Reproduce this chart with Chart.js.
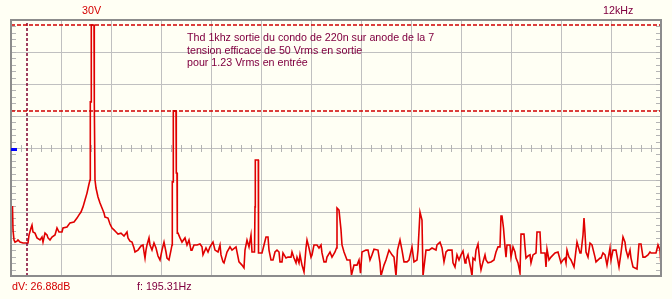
<!DOCTYPE html>
<html>
<head>
<meta charset="utf-8">
<script src="https://cdn.jsdelivr.net/npm/chart.js@4.4.0/dist/chart.umd.min.js"></script>
<style>
  html, body { margin: 0; padding: 0; background: #fffff4; }
  #spectre { display: block; }
</style>
</head>
<body>
<canvas id="spectre" width="672" height="299"></canvas>
<script>
// FFT bins (12.207 Hz each) and levels in dB
var bins = [
  0, 1.5, 2, 3, 4, 6, 7, 9, 12, 17,
  18, 20, 21, 22, 24, 26, 29, 31, 32, 34,
  36, 37, 39, 41, 44, 46, 48, 51, 52, 56,
  59, 63, 66, 68, 70, 72, 74, 76, 78, 79,
  79.3, 80, 80.3, 83, 83.3, 84, 85, 87, 89, 91,
  93, 94, 97, 99, 101, 103, 105, 107, 110, 113,
  116, 117, 119, 121, 123, 124, 127, 130, 132, 133,
  134, 135, 136, 138, 139, 141, 143, 145, 147, 149,
  151, 153, 155, 156, 158, 160, 161, 161.3, 162.3, 162.3,
  165, 165.3, 166, 166.3, 167, 169, 171, 174, 176, 178,
  180, 181, 183, 186, 189, 191, 192, 195, 197, 199,
  202, 204, 207, 209, 210, 212, 213, 216, 219, 221,
  225, 228, 231, 233, 234, 236, 238, 240, 241, 243.5,
  244, 244.3, 247.3, 247.5, 251, 253, 255, 257, 258, 260,
  262, 264, 266, 268, 269, 271, 272, 275, 277, 280,
  281, 283, 285, 286, 288, 289, 291, 293, 295, 296,
  298, 300, 301, 303, 306, 308, 310, 311, 313, 315,
  316, 319, 321, 324, 325.5, 326, 328, 330, 331, 333,
  336, 339, 340.5, 343, 346, 348, 349.5, 351, 355, 357,
  359, 361, 363, 367, 369, 370, 373, 375, 378, 381,
  383, 385, 386.5, 389, 391, 393, 396, 398, 401, 403,
  406, 407, 409, 411, 412, 415, 418, 421, 425, 426,
  429, 431, 433, 435, 437, 441, 442, 444, 446, 448,
  450, 452, 454, 455, 457, 458, 460, 461, 462, 464,
  465, 467, 469, 470, 472, 474, 475, 477, 480, 483,
  485, 487, 489, 490, 491, 492.5, 494, 495, 496, 499,
  500, 502, 504, 505, 507, 509, 510, 513, 514, 515,
  517, 519, 520, 522, 525, 526, 529, 530, 534, 535,
  536, 538, 540, 544, 547, 550, 552, 554, 555, 556,
  558, 560, 563, 565, 566, 569, 570, 572, 573, 574,
  575, 577, 579, 581, 584, 585, 589, 590, 592, 594,
  596, 599, 600, 602, 605, 608, 610, 612, 614, 615,
  617, 619, 620, 622, 624, 626, 628, 630, 632, 634,
  637, 639, 640, 645, 647, 649, 650
];

var levelsDb = [
  -58.4, -58.4, -65.6, -68.75, -69.4, -69.1, -68.75, -69.4, -69.7, -69.7,
  -67.2, -65, -64.1, -66.25, -66.6, -68.1, -68.75, -67.8, -69.4, -66.6,
  -67.2, -68.1, -68.75, -67.8, -67.2, -65, -66.25, -66.25, -65, -64.7,
  -63.4, -63.1, -61.9, -60.9, -60, -58.4, -56.25, -54.1, -51.25, -50,
  -25.6, -25.6, -1.56, -1.56, -25.9, -50, -52.5, -55.3, -57.2, -58.75,
  -60.3, -61.6, -61.9, -63.75, -65, -65.6, -66.25, -66.9, -66.6, -67.5,
  -66.25, -68.1, -69.1, -69.4, -71.25, -72.5, -71.9, -70.6, -70.3, -72.5,
  -74.4, -71.9, -70.3, -68.1, -70.3, -71.9, -69.7, -71.25, -73.75, -75,
  -71.9, -69.4, -72.5, -74.4, -75, -71.9, -70.3, -50.6, -50.6, -28.4,
  -28.4, -47.8, -47.8, -66.6, -66.6, -68.1, -69.4, -68.1, -70.3, -68.75,
  -71.9, -71.9, -70.3, -70.3, -70, -70.9, -73.4, -71.25, -72.5, -70.9,
  -69.4, -71.9, -72.5, -70.3, -73.4, -75.6, -75.9, -72.5, -70.9, -71.9,
  -70.9, -75.6, -76.6, -77.5, -71.9, -68.75, -70.9, -67.2, -72.5, -72.5,
  -58.4, -43.75, -43.75, -72.8, -72.8, -70.3, -67.8, -67.8, -71.9, -75,
  -75, -72.5, -71.9, -72.5, -75.6, -75.6, -72.8, -74.4, -74.1, -74.1,
  -72.5, -74.4, -75.9, -74.1, -75.9, -73.4, -76.6, -78.75, -71.25, -68.75,
  -71.25, -74.1, -73.4, -70.3, -70.3, -71.25, -70.3, -72.8, -75.6, -75.6,
  -74.1, -72.5, -74.1, -72.5, -71.25, -58.75, -59.4, -65.6, -70.3, -72.5,
  -75, -75, -79.7, -76.6, -76.6, -75, -79.1, -72.5, -71.9, -71.9,
  -75, -73.4, -71.6, -71.9, -75.9, -80, -76.6, -75, -71.9, -73.4,
  -74.1, -80, -71.9, -68.75, -71.9, -75.6, -75.6, -75, -70.9, -75.6,
  -75, -71.9, -60, -62.5, -80, -71.9, -71.9, -71.25, -71.9, -70.3,
  -69.4, -71.25, -75.6, -72.5, -71.9, -71.9, -75.9, -77.2, -73.4, -75,
  -73.4, -72.2, -75.9, -75, -73.4, -75, -78.1, -80, -74.4, -75,
  -71.9, -70, -75.9, -78.1, -75.6, -73.4, -75, -75.9, -75.6, -75,
  -72.5, -70.9, -70.9, -61.25, -61.25, -65, -70.9, -74.1, -70.3, -70.3,
  -74.1, -70.9, -72.5, -74.4, -75.9, -79.1, -66.9, -66.9, -70.9, -74.4,
  -73.75, -73.4, -75.9, -73.4, -72.8, -66.25, -66.25, -72.8, -72.8, -77.2,
  -71.6, -75, -74.1, -72.8, -72.5, -75.9, -75, -74.4, -75.9, -71.9,
  -74.1, -75, -77.2, -71.9, -69.4, -72.8, -72.8, -67.2, -61.9, -66.6,
  -72.5, -74.1, -69.7, -70.3, -74.1, -75.6, -74.4, -74.4, -72.8, -73.4,
  -76.6, -71.25, -75, -71.9, -71.9, -77.2, -72.8, -67.8, -69.4, -71.9,
  -74.1, -71.9, -74.4, -77.2, -77.5, -77.8, -70, -70, -74.1, -74.1,
  -73.4, -72.5, -72.8, -72.8, -70.3, -71.9, -76.9
];

// cursors
var cursorLevels = [-1.56, -28.44];   // dV = 26.88 dB
var cursorBin = 16;                   // f = 195.31 Hz
var binCount = 650;
var noteLines = [
  'Thd 1khz sortie du condo de 220n sur anode de la 7',
  'tension efficace de 50 Vrms en sortie',
  'pour 1.23 Vrms en entrée'
];

var trace = [];
for (var i = 0; i < bins.length; i++) {
  trace.push({ x: bins[i], y: levelsDb[i] });
}

var scopeDeco = {
  id: 'scopeDeco',
  beforeDatasetsDraw: function(chart) {
    var ctx = chart.ctx, a = chart.chartArea;
    var xs = chart.scales.x, ys = chart.scales.y;
    var yMid = ys.getPixelForValue(-40);
    ctx.save();
    ctx.strokeStyle = '#b4b4b4';
    ctx.lineWidth = 1;
    ctx.beginPath();
    // small ticks on the centre line
    for (var b = 10; b < binCount; b += 10) {
      var px = Math.round(xs.getPixelForValue(b)) + 0.5;
      ctx.moveTo(px, yMid - 3);
      ctx.lineTo(px, yMid + 4);
    }
    // side ticks every 2 dB
    for (var d = -78; d < 0; d += 2) {
      var py = Math.round(ys.getPixelForValue(d)) + 0.5;
      ctx.moveTo(a.left, py);
      ctx.lineTo(a.left + 5, py);
      ctx.moveTo(a.right - 5, py);
      ctx.lineTo(a.right, py);
    }
    ctx.stroke();
    ctx.restore();
  },
  afterDraw: function(chart) {
    var ctx = chart.ctx, a = chart.chartArea;
    var ys = chart.scales.y;
    ctx.save();
    ctx.strokeStyle = '#8c8c8c';
    ctx.lineWidth = 2;
    ctx.strokeRect(a.left, a.top, a.right - a.left, a.bottom - a.top);

    ctx.fillStyle = '#0000ff';
    ctx.fillRect(a.left, Math.round(ys.getPixelForValue(-40)), 6, 3);

    ctx.font = '10.7px "Liberation Sans", Arial, sans-serif';
    ctx.textBaseline = 'alphabetic';
    ctx.fillStyle = '#d40000';
    ctx.fillText('30V', 82, 14);
    ctx.fillText('dV: 26.88dB', 12, 290);
    ctx.fillStyle = '#800040';
    ctx.fillText('12kHz', 603, 14);
    ctx.fillText('f: 195.31Hz', 137, 290);
    for (var k = 0; k < noteLines.length; k++) {
      ctx.fillText(noteLines[k], 187, 41 + k * 12.7);
    }
    ctx.restore();
  }
};

new Chart(document.getElementById('spectre'), {
  type: 'line',
  data: {
    datasets: [{
        data: [{ x: 0, y: cursorLevels[0] }, { x: binCount, y: cursorLevels[0] }],
        borderColor: '#d00000',
        borderWidth: 1.5,
        borderDash: [4, 2],
        pointRadius: 0
      }, {
        data: [{ x: 0, y: cursorLevels[1] }, { x: binCount, y: cursorLevels[1] }],
        borderColor: '#d00000',
        borderWidth: 1.5,
        borderDash: [4, 2],
        pointRadius: 0
      }, {
        data: [{ x: cursorBin, y: -80 }, { x: cursorBin, y: 0 }],
        borderColor: '#800030',
        borderWidth: 1.5,
        borderDash: [3, 2],
        pointRadius: 0
      }, {
        data: trace,
        borderColor: '#e00000',
        borderWidth: 1.6,
        pointRadius: 0,
        tension: 0
      }
    ]
  },
  options: {
    responsive: false,
    animation: false,
    devicePixelRatio: 1,
    layout: { padding: { left: 11, top: 20, right: 11, bottom: 23 } },
    plugins: { legend: { display: false }, tooltip: { enabled: false } },
    scales: {
      x: {
        type: 'linear',
        min: 0,
        max: binCount,
        ticks: { display: false, stepSize: 50 },
        grid: { color: '#c0c0c0', drawTicks: false },
        border: { display: false }
      },
      y: {
        min: -80,
        max: 0,
        ticks: { display: false, stepSize: 10 },
        grid: { color: '#c0c0c0', drawTicks: false },
        border: { display: false }
      }
    }
  },
  plugins: [scopeDeco]
});
</script>
</body>
</html>
